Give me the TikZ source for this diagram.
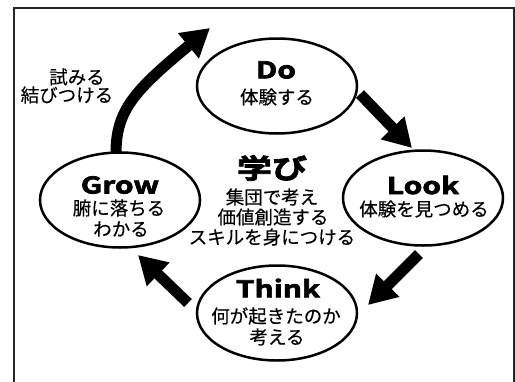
\documentclass[tikz,border=0pt]{standalone}
\usepackage{fontspec}
\setmainfont{Noto Sans CJK JP}[FakeBold=0.4]
\newfontfamily\heavy{Noto Sans CJK JP Bold}[FakeBold=3,FakeStretch=1.3]
\usetikzlibrary{shapes.geometric,arrows.meta}
\begin{document}
\begin{tikzpicture}[x=1pt,y=-1pt,
  cyc/.style={ellipse, draw, line width=2.5pt, minimum width=160pt, minimum height=95pt, inner sep=0pt},
  ttl/.style={font=\heavy\fontsize{23}{23}\selectfont, inner sep=0pt},
  jp/.style={font=\fontsize{18.5}{18.5}\selectfont, inner sep=0pt},
  bigarrow/.style={line width=11pt, -{Triangle[width=31pt,length=28pt]}}]
\useasboundingbox (0,0) rectangle (515,381);
% frame, open at the bottom
\draw[line width=2pt, color=black!85] (13.5,390) -- (13.5,7.5) -- (513.5,7.5) -- (513.5,390);

% cycle ellipses
\node[cyc] (do)    at (277,86)  {};
\node[cyc] (look)  at (423,198) {};
\node[cyc] (think) at (277,313) {};
\node[cyc] (grow)  at (120,200) {};

% texts
\node[ttl] (dot) at (276,70) {Do};
\node[jp]  (doj) at (277,97) {体験する};

\node[ttl] (lookt) at (423,185) {Look};
\node[jp]  (lookj) at (424,209) {体験を見つめる};

\node[ttl] (thinkt) at (278,288) {Think};
\node[jp]  (thinkj1) at (276,316) {何が起きたのか};
\node[jp]  (thinkj2) at (277,337) {考える};

\node[ttl] (growt) at (120,185) {Grow};
\node[jp]  (growj1) at (119,208) {腑に落ちる};
\node[jp]  (growj2) at (121,229) {わかる};

\node[ttl, font=\heavy\fontsize{27}{27}\selectfont] (manabi) at (272,168) {学び};
\node[jp]  (m1) at (272,197) {集団で考え};
\node[jp]  (m2) at (273,217) {価値創造する};
\node[jp]  (m3) at (272,237) {スキルを身につける};

\node[jp] (tr1) at (77,77) {試みる};
\node[jp] (tr2) at (67,95) {結びつける};

% arrows
\coordinate (a1s) at (360,94);
\coordinate (a1e) at (412,148);
\coordinate (a2s) at (419,254);
\coordinate (a2e) at (368,305);
\coordinate (a3s) at (188,303);
\coordinate (a3e) at (138,255);
\coordinate (a4s) at (116,153);
\coordinate (a4e) at (210,28);
\draw[bigarrow] (a1s) -- (a1e);
\draw[bigarrow] (a2s) -- (a2e);
\draw[bigarrow] (a3s) -- (a3e);
\draw[bigarrow] (a4s) .. controls (116,110) and (135,90) .. (a4e);
\end{tikzpicture}
\end{document}
